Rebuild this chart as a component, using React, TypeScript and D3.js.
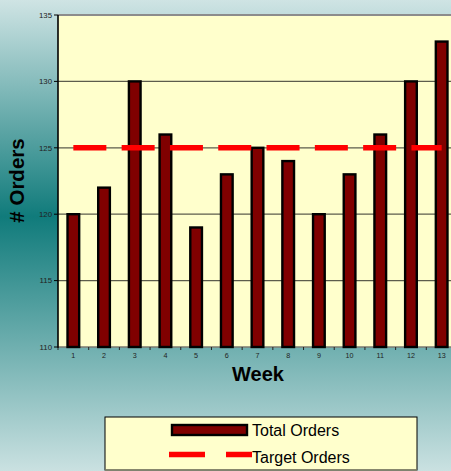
import React from 'react';
import * as d3 from 'd3';

const weeks = ['1', '2', '3', '4', '5', '6', '7', '8', '9', '10', '11', '12', '13'];
const totalOrders = [120, 122, 130, 126, 119, 123, 125, 124, 120, 123, 126, 130, 133];
const targetOrders = [125, 125, 125, 125, 125, 125, 125, 125, 125, 125, 125, 125, 125];
const yTicks = [110, 115, 120, 125, 130, 135];

const W = 451;
const H = 471;
const plot = { left: 58, top: 15, right: 457, bottom: 347 };
const font = '"Liberation Sans", Arial, sans-serif';

const App: React.FC = () => {
  const x = d3.scaleBand<string>().domain(weeks).range([plot.left, plot.right]).padding(0);
  const y = d3.scaleLinear().domain([110, 135]).range([plot.bottom, plot.top]);
  const barW = x.bandwidth() * 0.38;
  const cx = (w: string) => (x(w) ?? 0) + x.bandwidth() / 2;

  const target = d3
    .line<number>()
    .x((_, i) => cx(weeks[i]))
    .y((d) => y(d));

  return (
    <svg width={W} height={H} style={{ position: 'absolute', left: 0, top: 0 }} fontFamily={font}>
      <defs>
        <linearGradient id="bg" x1="0" y1="0" x2="0" y2="1">
          <stop offset="0" stopColor="#cfe4e4" />
          <stop offset="0.46" stopColor="#107b7b" />
          <stop offset="1" stopColor="#cae1e1" />
        </linearGradient>
      </defs>
      <rect x={0} y={0} width={W} height={H} fill="url(#bg)" />

      {/* plot area */}
      <rect
        x={plot.left}
        y={plot.top}
        width={plot.right - plot.left}
        height={plot.bottom - plot.top}
        fill="#ffffcc"
      />
      {yTicks.slice(1, -1).map((t) => (
        <line key={t} x1={plot.left} x2={plot.right} y1={y(t)} y2={y(t)} stroke="#5c5c4c" strokeWidth={1.2} />
      ))}
      <line x1={plot.left} x2={plot.right} y1={y(135)} y2={y(135)} stroke="#8c8c8c" strokeWidth={2} />
      <line x1={plot.left} x2={plot.right} y1={y(110)} y2={y(110)} stroke="#7a7a70" strokeWidth={1.5} />

      {/* bars */}
      {totalOrders.map((v, i) => (
        <rect
          key={i}
          x={cx(weeks[i]) - barW / 2}
          y={y(v)}
          width={barW}
          height={y(110) - y(v)}
          fill="#800000"
          stroke="#000"
          strokeWidth={2.4}
        />
      ))}

      {/* target */}
      <path
        d={target(targetOrders) ?? ''}
        fill="none"
        stroke="#ff0000"
        strokeWidth={5.5}
        strokeDasharray="33 15.3"
      />

      {/* y axis */}
      <line x1={plot.left} x2={plot.left} y1={plot.top} y2={plot.bottom + 1} stroke="#000" strokeWidth={1.6} />
      {yTicks.map((t) => (
        <g key={t}>
          <line x1={plot.left - 4} x2={plot.left} y1={y(t)} y2={y(t)} stroke="#000" strokeWidth={1} />
          <text x={plot.left - 6} y={y(t)} dy="0.35em" textAnchor="end" fontSize={7.8} fill="#222">
            {t}
          </text>
        </g>
      ))}

      {/* x axis */}
      {weeks.map((w) => (
        <g key={w}>
          <line x1={x(w)} x2={x(w)} y1={plot.bottom} y2={plot.bottom + 3} stroke="#222" strokeWidth={1} />
          <text x={cx(w)} y={plot.bottom + 11} textAnchor="middle" fontSize={7.2} fill="#222">
            {w}
          </text>
        </g>
      ))}

      <text x={258} y={381} textAnchor="middle" fontSize={20} fontWeight="bold" fill="#000">
        Week
      </text>
      <text
        transform={`translate(24,${180.5}) rotate(-90)`}
        textAnchor="middle"
        fontSize={20.5}
        fontWeight="bold"
        fill="#000"
      >
        # Orders
      </text>

      {/* legend */}
      <rect x={105} y={417} width={312} height={53} fill="#ffffcc" stroke="#000" strokeWidth={1} />
      <line x1={105} x2={417} y1={470} y2={470} stroke="#8a8a70" strokeWidth={1.5} />
      <rect x={172} y={425} width={75} height={10} fill="#800000" stroke="#000" strokeWidth={2.4} />
      <text x={252} y={436} fontSize={16} fill="#000">
        Total Orders
      </text>
      <line x1={169} x2={252} y1={454.5} y2={454.5} stroke="#ff0000" strokeWidth={5.5} strokeDasharray="36 21" />
      <text x={252} y={462.5} fontSize={16} fill="#000">
        Target Orders
      </text>
    </svg>
  );
};

export default App;
